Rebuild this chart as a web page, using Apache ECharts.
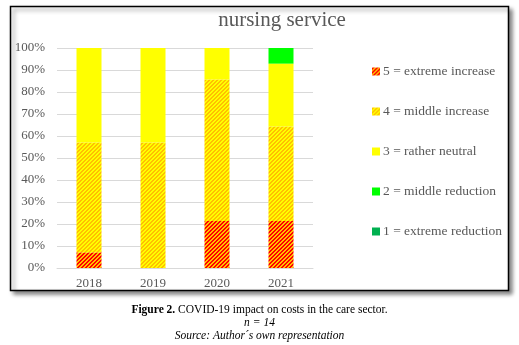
<!DOCTYPE html>
<html>
<head>
<meta charset="utf-8">
<script src="https://cdn.jsdelivr.net/npm/echarts@6/dist/echarts.min.js"></script>
<style>
  html, body { margin: 0; padding: 0; background: #fff; }
  #chart { width: 519px; height: 345px; }
</style>
</head>
<body>
<div id="chart"></div>
<script>
// Survey years and answer shares (percent of n = 14 respondents)
const years = ['2018', '2019', '2020', '2021'];
const extremeIncrease = [7.1, 0, 21.4, 21.4];
const middleIncrease = [50.0, 57.1, 64.3, 42.9];
const ratherNeutral = [42.9, 42.9, 14.3, 28.6];
const middleReduction = [0, 0, 0, 7.1];
const extremeReduction = [0, 0, 0, 0];
const seriesNames = [
  '5 = extreme increase',
  '4 = middle increase',
  '3 = rather neutral',
  '2 = middle reduction',
  '1 = extreme reduction'
];

// Diagonal stripe fill built on a small canvas
function stripes(a, b) {
  const c = document.createElement('canvas');
  c.width = 8; c.height = 8;
  const ctx = c.getContext('2d');
  for (let x = 0; x < 8; x++) {
    for (let y = 0; y < 8; y++) {
      ctx.fillStyle = ((x + y) % 4) < 2 ? a : b;
      ctx.fillRect(x, y, 1, 1);
    }
  }
  return { image: c, repeat: 'repeat' };
}

const serif = '"Liberation Serif", "Times New Roman", serif';
const grey = '#595959';

const chart = echarts.init(document.getElementById('chart'), null, { renderer: 'canvas' });

const fills = [
  stripes('#FF0000', '#FFC000'),
  stripes('#FFC000', '#FFFF00'),
  '#FFFF00',
  '#00FF00',
  '#00B050'
];
const values = [extremeIncrease, middleIncrease, ratherNeutral, middleReduction, extremeReduction];

chart.setOption({
  animation: false,
  graphic: [
    {
      type: 'rect',
      shape: { x: 10.5, y: 6.5, width: 498, height: 284 },
      style: {
        fill: '#fff', stroke: '#000', lineWidth: 1.5,
        shadowBlur: 4, shadowOffsetX: 3, shadowOffsetY: 3, shadowColor: 'rgba(0,0,0,0.45)'
      },
      z: -10
    },
    {
      type: 'text', left: 'center', top: 304,
      style: {
        text: '{b|Figure 2.} COVID-19 impact on costs in the care sector.',
        font: '11.5px ' + serif, fill: '#000',
        rich: { b: { fontWeight: 'bold', fontFamily: serif, fontSize: 11.5 } }
      }
    },
    {
      type: 'text', left: 'center', top: 317,
      style: { text: 'n = 14', font: 'italic 11.5px ' + serif, fill: '#000' }
    },
    {
      type: 'text', left: 'center', top: 330,
      style: { text: 'Source: Author\u00b4s own representation', font: 'italic 11.5px ' + serif, fill: '#000' }
    }
  ],
  title: {
    text: 'nursing service',
    left: 277, textAlign: 'center', top: 5,
    textStyle: { fontFamily: serif, fontSize: 21, fontWeight: 'normal', color: grey }
  },
  legend: {
    orient: 'vertical',
    left: 372, top: 63,
    padding: 0,
    itemWidth: 8, itemHeight: 8, itemGap: 23,
    icon: 'rect',
    textStyle: { fontFamily: serif, fontSize: 13.5, color: grey, lineHeight: 17, padding: [0, 0, 0, -2] },
    data: seriesNames
  },
  grid: { left: 57, right: 206, top: 48, bottom: 77 },
  xAxis: {
    type: 'category',
    data: years,
    axisLine: { show: true, lineStyle: { color: '#d9d9d9' } },
    axisTick: { show: false },
    axisLabel: { fontFamily: serif, fontSize: 13, color: grey, margin: 9 }
  },
  yAxis: {
    type: 'value',
    min: 0, max: 100, interval: 10,
    axisLine: { show: false },
    axisTick: { show: false },
    splitLine: { lineStyle: { color: '#d9d9d9' } },
    axisLabel: { formatter: '{value}%', fontFamily: serif, fontSize: 13, color: grey, margin: 12 }
  },
  series: seriesNames.map((name, i) => ({
    name: name,
    type: 'bar',
    stack: 'total',
    barWidth: 25,
    itemStyle: { color: fills[i] },
    data: values[i]
  }))
});
</script>
</body>
</html>
